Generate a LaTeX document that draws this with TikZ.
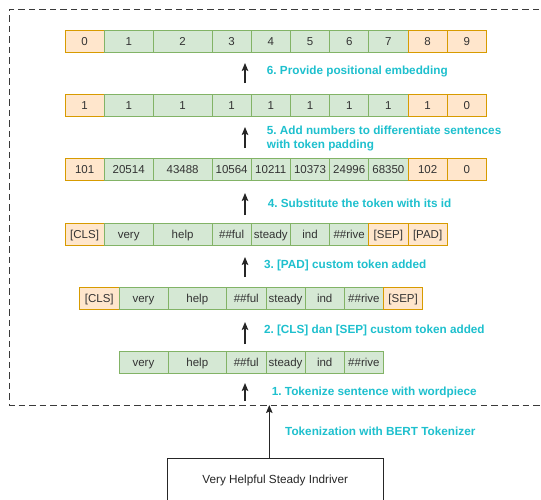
\documentclass[tikz,border=0pt]{standalone}
\usepackage{fontspec}
\setmainfont{Liberation Sans}
\usetikzlibrary{arrows.meta}
\frenchspacing

\definecolor{specfill}{HTML}{FFE6CC}
\definecolor{specline}{HTML}{D79B00}
\definecolor{wordfill}{HTML}{D5E8D4}
\definecolor{wordline}{HTML}{82B366}
\definecolor{stepcol}{HTML}{1EC0CE}
\definecolor{celltext}{HTML}{333333}
\definecolor{framecol}{HTML}{3A3A3A}

\tikzset{
  cell/.style={draw, outer sep=0pt, inner sep=0pt, minimum height=22pt,
    text height=8.3pt, text depth=0pt,
    anchor=west, line width=0.8pt, text=celltext,
    font=\fontsize{11.5}{13}\selectfont},
  sA/.style={cell, fill=specfill, draw=specline, minimum width=39.2pt},
  wA/.style={cell, fill=wordfill, draw=wordline, minimum width=39.2pt},
  wB/.style={cell, fill=wordfill, draw=wordline, minimum width=49pt},
  wC/.style={cell, fill=wordfill, draw=wordline, minimum width=58.8pt},
  steplabel/.style={anchor=west, inner sep=0pt, text=stepcol, align=left,
    font=\bfseries\fontsize{11.75}{14.5}\selectfont},
  uparrow/.style={-{Stealth[length=8pt,width=6.5pt,inset=1.5pt]}, line width=1.3pt, draw=black!85},
  frame/.style={draw=framecol, line width=1pt, dash pattern=on 6.5pt off 4pt},
  inputbox/.style={draw=black!85, line width=0.9pt, minimum width=215.7pt,
    minimum height=43.4pt, inner sep=0pt, font=\fontsize{11.75}{13}\selectfont,
    text=black!85}
}

% a row of token cells laid side by side, left edge at the given point
\newcommand\cellrow[3]{%
  \foreach [count=\k] \st/\tx in {#3} {%
    \pgfmathtruncatemacro\j{\k-1}%
    \ifnum\k=1
      \node[\st] (#1-\k) at #2 {\tx};
    \else
      \node[\st] (#1-\k) at (#1-\j.east) {\tx};
    \fi
  }%
}

\begin{document}
\begin{tikzpicture}[x=1pt, y=-1pt]
  \clip (0,0) rectangle (541,499);
  \fill[white] (0,0) rectangle (541,499);

  % dashed frame around the tokenizer steps
  \draw[frame] (560,9.5) -- (9.3,9.5) -- (9.3,405) -- (560,405);

  % token rows
  \cellrow{pos}{(65,41)}{sA/0, wB/1, wC/2, wA/3, wA/4, wA/5, wA/6, wA/7, sA/8, sA/9}
  \cellrow{seg}{(65,105)}{sA/1, wB/1, wC/1, wA/1, wA/1, wA/1, wA/1, wA/1, sA/1, sA/0}
  \cellrow{ids}{(65,169.5)}{sA/101, wB/20514, wC/43488, wA/10564, wA/10211, wA/10373, wA/24996, wA/68350, sA/102, sA/0}
  \cellrow{pad}{(65,234.5)}{sA/{[CLS]}, wB/very, wC/help, wA/\#\#ful, wA/steady, wA/ind, wA/\#\#rive, sA/{[SEP]}, sA/{[PAD]}}
  \cellrow{cls}{(79.7,298)}{sA/{[CLS]}, wB/very, wC/help, wA/\#\#ful, wA/steady, wA/ind, wA/\#\#rive, sA/{[SEP]}}
  \cellrow{wp}{(118.9,362.5)}{wB/very, wC/help, wA/\#\#ful, wA/steady, wA/ind, wA/\#\#rive}

  % arrow ends between the rows
  \coordinate (a6s) at (245,83);  \coordinate (a6e) at (245,63);
  \coordinate (a5s) at (245,148); \coordinate (a5e) at (245,127);
  \coordinate (a4s) at (245,215); \coordinate (a4e) at (245,193);
  \coordinate (a3s) at (245,277); \coordinate (a3e) at (245,257);
  \coordinate (a2s) at (245,344); \coordinate (a2e) at (245,322);
  \coordinate (a1s) at (245,401); \coordinate (a1e) at (245,383);
  \draw[uparrow] (a6s) -- (a6e);
  \draw[uparrow] (a5s) -- (a5e);
  \draw[uparrow] (a4s) -- (a4e);
  \draw[uparrow] (a3s) -- (a3e);
  \draw[uparrow] (a2s) -- (a2e);
  \draw[uparrow] (a1s) -- (a1e);

  % step labels
  \node[steplabel] (lab6) at (266.7,71.5) {6. Provide positional embedding};
  \node[steplabel] (lab5) at (266.7,138.5) {5. Add numbers to differentiate sentences\\with token padding};
  \node[steplabel] (lab4) at (267.6,203.5) {4. Substitute the token with its id};
  \node[steplabel] (lab3) at (263.8,265.5) {3. [PAD] custom token added};
  \node[steplabel] (lab2) at (263.8,330.5) {2. [CLS] dan [SEP] custom token added};
  \node[steplabel] (lab1) at (271.7,392.8) {1. Tokenize sentence with wordpiece};

  % input sentence and tokenizer arrow
  \node[inputbox] (input) at (275.2,480) {Very Helpful Steady Indriver};
  \coordinate (tok) at (269.3,405);
  \draw[uparrow, line width=1pt] (input.north -| tok) -- (tok);
  \node[steplabel] (labtok) at (285,431.5) {Tokenization with BERT Tokenizer};
\end{tikzpicture}
\end{document}
